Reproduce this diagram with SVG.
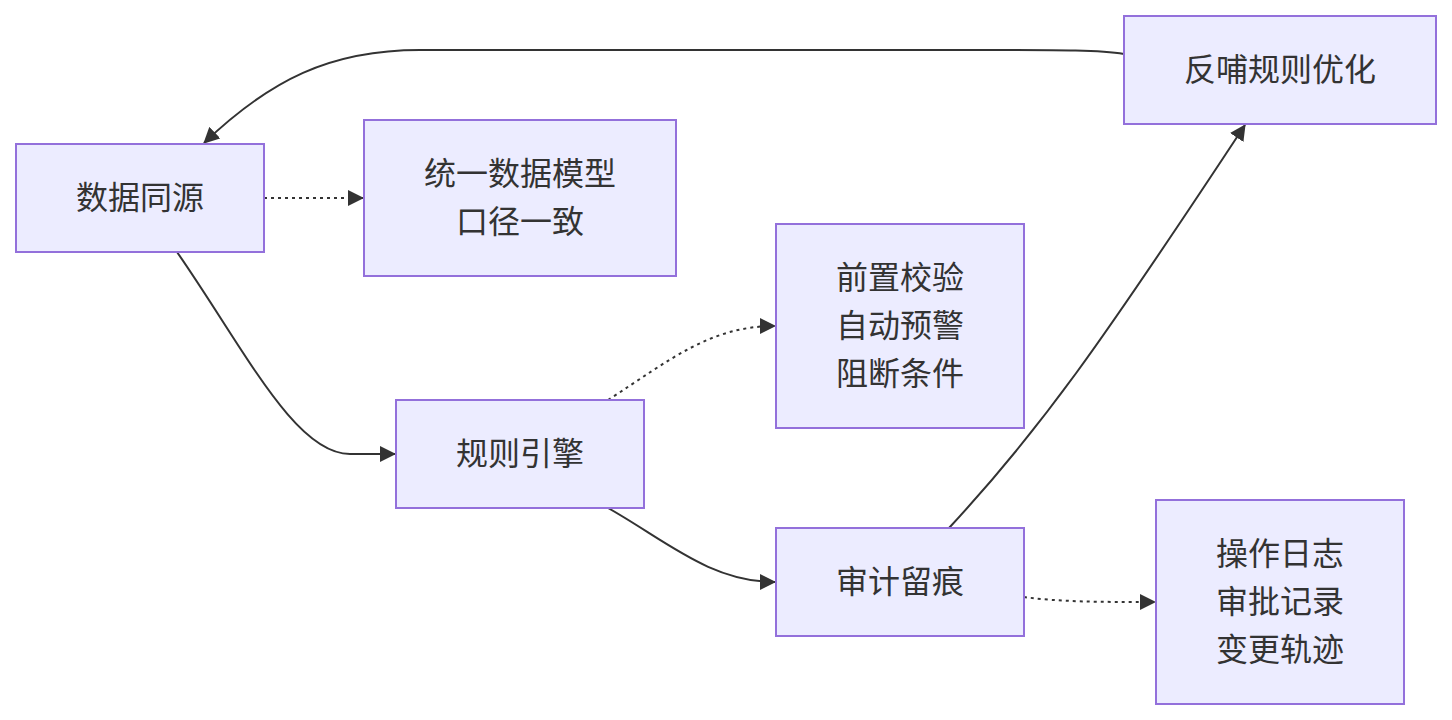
<svg xmlns="http://www.w3.org/2000/svg" width="1452" height="720" viewBox="0 0 1452 720">
<style>
.node rect{fill:#ECECFF;stroke:#9370DB;stroke-width:2}
.node text{font-family:"Liberation Sans","Noto Sans CJK SC",sans-serif;font-size:32px;fill:#333;text-anchor:middle;dominant-baseline:central}
.edge{fill:none;stroke:#333;stroke-width:2}
.dot{stroke-dasharray:3 4}
</style>
<defs>
<marker id="arr" viewBox="0 0 16 16" refX="15" refY="8" markerWidth="16" markerHeight="16" markerUnits="userSpaceOnUse" orient="auto">
<path d="M0,0 L16,8 L0,16 z" fill="#333"/>
</marker>
</defs>
<rect width="1452" height="720" fill="#fff"/>
<g id="edges">
<path class="edge dot" d="M264,198 L363,198" marker-end="url(#arr)"/>
<path class="edge" d="M177,252 C245,350 295,454 350,454 L395,454" marker-end="url(#arr)"/>
<path class="edge dot" d="M608,400 C670,360 710,326 775,326" marker-end="url(#arr)"/>
<path class="edge" d="M608,508 C665,540 710,582 775,582" marker-end="url(#arr)"/>
<path class="edge dot" d="M1024,597 C1060,602 1100,602 1155,602" marker-end="url(#arr)"/>
<path class="edge" d="M949,528 C1040,430 1100,345 1245,125" marker-end="url(#arr)"/>
<path class="edge" d="M1124,54 C1100,50 1060,50 1000,50 L420,50 C330,50 270,80 204,143" marker-end="url(#arr)"/>
</g>
<g id="n1" class="node"><rect x="16" y="144" width="248" height="108"/><text x="140" y="198">数据同源</text></g>
<g id="n2" class="node"><rect x="364" y="120" width="312" height="156"/><text x="520" y="174">统一数据模型</text><text x="520" y="222">口径一致</text></g>
<g id="n3" class="node"><rect x="396" y="400" width="248" height="108"/><text x="520" y="454">规则引擎</text></g>
<g id="n4" class="node"><rect x="776" y="224" width="248" height="204"/><text x="900" y="278">前置校验</text><text x="900" y="326">自动预警</text><text x="900" y="374">阻断条件</text></g>
<g id="n5" class="node"><rect x="776" y="528" width="248" height="108"/><text x="900" y="582">审计留痕</text></g>
<g id="n6" class="node"><rect x="1156" y="500" width="248" height="204"/><text x="1280" y="554">操作日志</text><text x="1280" y="602">审批记录</text><text x="1280" y="650">变更轨迹</text></g>
<g id="n7" class="node"><rect x="1124" y="16" width="312" height="108"/><text x="1280" y="70">反哺规则优化</text></g>
</svg>
